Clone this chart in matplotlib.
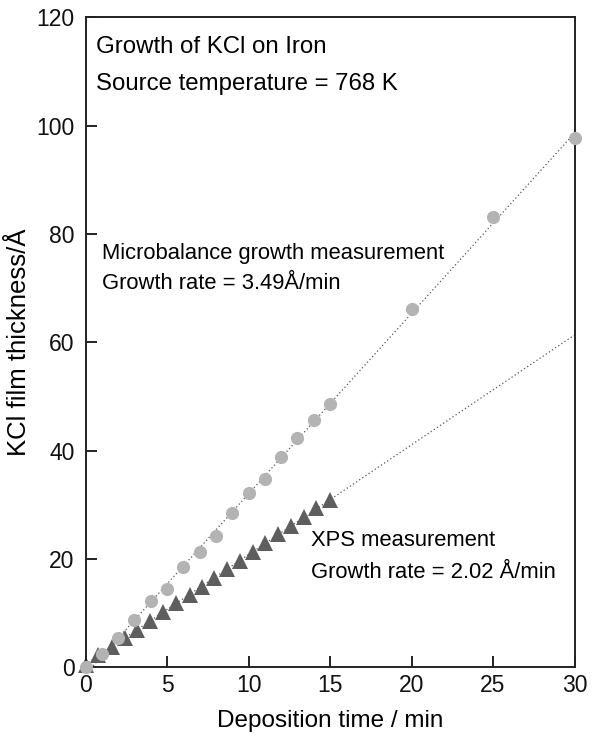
import numpy as np
import matplotlib.pyplot as plt

plt.rcParams['font.family'] = ['Liberation Sans', 'DejaVu Sans']

# Microbalance measurement (circles)
mb_time = [0, 1, 2, 3, 4, 5, 6, 7, 8, 9, 10, 11, 12, 13, 14, 15, 20, 25, 30]
mb_thick = [0.0, 2.5, 5.4, 8.7, 12.2, 14.4, 18.6, 21.3, 24.3, 28.4, 32.1,
            34.8, 38.8, 42.3, 45.7, 48.6, 66.1, 83.1, 97.7]

# XPS measurement (triangles)
xps_time = [0.0, 0.79, 1.61, 2.43, 3.19, 3.97, 4.75, 5.57, 6.39, 7.15,
            7.9, 8.68, 9.5, 10.28, 11.04, 11.8, 12.58, 13.4, 14.17, 14.99]
xps_thick = [0.5, 2.3, 3.8, 5.5, 6.9, 8.6, 10.3, 11.8, 13.4, 14.9,
             16.5, 18.2, 19.6, 21.2, 22.9, 24.6, 26.1, 27.7, 29.4, 30.9]

x_ticks = [0, 5, 10, 15, 20, 25, 30]
y_ticks = [0, 20, 40, 60, 80, 100, 120]

fig = plt.figure(figsize=(5.96, 7.41), dpi=100)
ax = fig.add_axes([85.5 / 596, 73.7 / 741, 489 / 596, 650 / 741])

# linear fits drawn as dotted guide lines across the whole range
t_fit = np.array([0, 30])
for tx, ty in [(mb_time, mb_thick), (xps_time, xps_thick)]:
    k, b = np.polyfit(tx, ty, 1)
    ax.plot(t_fit, k * t_fit + b, color='#555555', lw=0.9,
            linestyle=(0, (1, 2)), zorder=1)

ax.plot(xps_time, xps_thick, '^', color='#5e5e5e', markersize=11,
        markeredgewidth=0, zorder=2, clip_on=False)
ax.plot(mb_time, mb_thick, 'o', color='#b3b3b3', markersize=9.5,
        markeredgewidth=0, zorder=3, clip_on=False)

ax.set_xlim(0, 30)
ax.set_ylim(0, 120)
ax.set_xticks(x_ticks)
ax.set_yticks(y_ticks)
ax.tick_params(direction='in', length=8, width=1.3, labelsize=16.5,
               colors='#111111')
ax.tick_params(axis='y', pad=8)
ax.tick_params(axis='x', pad=5)
for s in ax.spines.values():
    s.set_linewidth(1.4)
    s.set_color('#222222')

ax.set_xlabel('Deposition time / min', fontsize=17.5, labelpad=9)
ax.set_ylabel('KCl film thickness/Å', fontsize=18.5, labelpad=4)

ax.text(0.022, 0.955, 'Growth of KCl on Iron', transform=ax.transAxes,
        fontsize=17.3, va='center', ha='left')
ax.text(0.022, 0.898, 'Source temperature = 768 K', transform=ax.transAxes,
        fontsize=17.3, va='center', ha='left')
ax.text(0.034, 0.636, 'Microbalance growth measurement', transform=ax.transAxes,
        fontsize=15.8, va='center', ha='left')
ax.text(0.034, 0.590, 'Growth rate = 3.49Å/min', transform=ax.transAxes,
        fontsize=15.8, va='center', ha='left')
ax.text(0.461, 0.195, 'XPS measurement', transform=ax.transAxes,
        fontsize=15.8, va='center', ha='left')
ax.text(0.461, 0.146, 'Growth rate = 2.02 Å/min', transform=ax.transAxes,
        fontsize=15.8, va='center', ha='left')

fig.savefig('out.png', dpi=100)
